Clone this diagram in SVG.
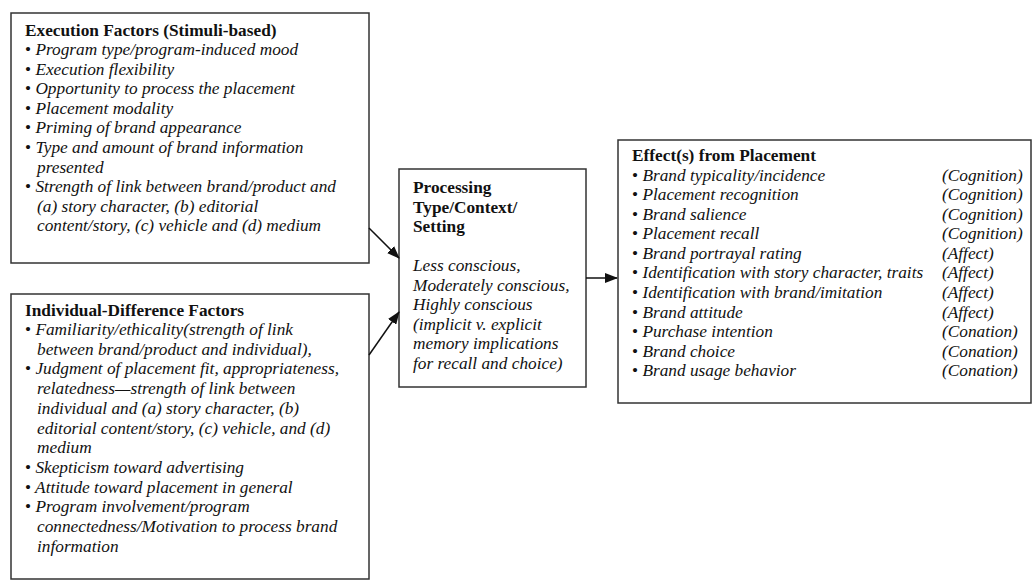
<svg xmlns="http://www.w3.org/2000/svg" width="1034" height="583" viewBox="0 0 1034 583">
<defs>
<style>
.box{fill:#fff;stroke:#333;stroke-width:1.5}
text{font-family:"Liberation Serif","Times New Roman",serif;font-size:17.3px;fill:#111}
.h{font-weight:bold}
.i{font-style:italic}
.b{font-style:normal}
.conn{stroke:#111;stroke-width:1.5;fill:none}
</style>
<marker id="ah" markerWidth="13" markerHeight="10" refX="12" refY="5" orient="auto" markerUnits="userSpaceOnUse">
<path d="M0,0 L13,5 L0,10 Z" fill="#111"/>
</marker>
</defs>
<rect width="1034" height="583" fill="#fff"/>
<g id="exec">
<rect class="box" x="11" y="13" width="358" height="250"/>
<text class="h" x="25" y="35.5">Execution Factors (Stimuli-based)</text>
<g class="i">
<text x="25" y="55"><tspan class="b">•</tspan> Program type/program-induced mood</text>
<text x="25" y="74.6"><tspan class="b">•</tspan> Execution flexibility</text>
<text x="25" y="94.2"><tspan class="b">•</tspan> Opportunity to process the placement</text>
<text x="25" y="113.8"><tspan class="b">•</tspan> Placement modality</text>
<text x="25" y="133.4"><tspan class="b">•</tspan> Priming of brand appearance</text>
<text x="25" y="153"><tspan class="b">•</tspan> Type and amount of brand information</text>
<text x="37" y="172.6">presented</text>
<text x="25" y="192.2"><tspan class="b">•</tspan> Strength of link between brand/product and</text>
<text x="37" y="211.8">(a) story character, (b) editorial</text>
<text x="37" y="231.4">content/story, (c) vehicle and (d) medium</text>
</g>
</g>
<g id="indiv">
<rect class="box" x="11" y="294" width="358" height="285"/>
<text class="h" x="25" y="316">Individual-Difference Factors</text>
<g class="i">
<text x="25" y="335"><tspan class="b">•</tspan> Familiarity/ethicality(strength of link</text>
<text x="37" y="354.7">between brand/product and individual),</text>
<text x="25" y="374.4"><tspan class="b">•</tspan> Judgment of placement fit, appropriateness,</text>
<text x="37" y="394.1">relatedness—strength of link between</text>
<text x="37" y="413.8">individual and (a) story character, (b)</text>
<text x="37" y="433.5">editorial content/story, (c) vehicle, and (d)</text>
<text x="37" y="453.2">medium</text>
<text x="25" y="472.9"><tspan class="b">•</tspan> Skepticism toward advertising</text>
<text x="25" y="492.6"><tspan class="b">•</tspan> Attitude toward placement in general</text>
<text x="25" y="512.3"><tspan class="b">•</tspan> Program involvement/program</text>
<text x="37" y="532">connectedness/Motivation to process brand</text>
<text x="37" y="551.7">information</text>
</g>
</g>
<g id="processing">
<rect class="box" x="399" y="169" width="187" height="218"/>
<text class="h" x="413" y="193">Processing</text>
<text class="h" x="413" y="212.5">Type/Context/</text>
<text class="h" x="413" y="232">Setting</text>
<g class="i">
<text x="413" y="271">Less conscious,</text>
<text x="413" y="290.5">Moderately conscious,</text>
<text x="413" y="310">Highly conscious</text>
<text x="413" y="329.5">(implicit v. explicit</text>
<text x="413" y="349">memory implications</text>
<text x="413" y="368.5">for recall and choice)</text>
</g>
</g>
<g id="effects">
<rect class="box" x="618" y="140" width="413" height="263"/>
<text class="h" x="632" y="161">Effect(s) from Placement</text>
<g class="i">
<text x="632" y="180.5"><tspan class="b">•</tspan> Brand typicality/incidence</text>
<text x="632" y="200"><tspan class="b">•</tspan> Placement recognition</text>
<text x="632" y="219.6"><tspan class="b">•</tspan> Brand salience</text>
<text x="632" y="239.2"><tspan class="b">•</tspan> Placement recall</text>
<text x="632" y="258.8"><tspan class="b">•</tspan> Brand portrayal rating</text>
<text x="632" y="278.4"><tspan class="b">•</tspan> Identification with story character, traits</text>
<text x="632" y="298"><tspan class="b">•</tspan> Identification with brand/imitation</text>
<text x="632" y="317.6"><tspan class="b">•</tspan> Brand attitude</text>
<text x="632" y="337.2"><tspan class="b">•</tspan> Purchase intention</text>
<text x="632" y="356.8"><tspan class="b">•</tspan> Brand choice</text>
<text x="632" y="376.4"><tspan class="b">•</tspan> Brand usage behavior</text>
<text x="942" y="180.5">(Cognition)</text>
<text x="942" y="200">(Cognition)</text>
<text x="942" y="219.6">(Cognition)</text>
<text x="942" y="239.2">(Cognition)</text>
<text x="942" y="258.8">(Affect)</text>
<text x="942" y="278.4">(Affect)</text>
<text x="942" y="298">(Affect)</text>
<text x="942" y="317.6">(Affect)</text>
<text x="942" y="337.2">(Conation)</text>
<text x="942" y="356.8">(Conation)</text>
<text x="942" y="376.4">(Conation)</text>
</g>
</g>
<g id="connectors">
<line class="conn" x1="369" y1="228" x2="399" y2="258" marker-end="url(#ah)"/>
<line class="conn" x1="369" y1="355" x2="399" y2="312" marker-end="url(#ah)"/>
<line class="conn" x1="586" y1="278" x2="617" y2="278" marker-end="url(#ah)"/>
</g>
</svg>
